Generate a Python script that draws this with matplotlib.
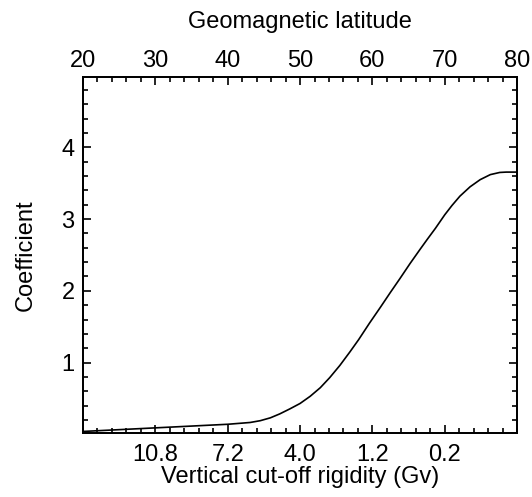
import matplotlib
matplotlib.use("Agg")
import matplotlib.pyplot as plt
from matplotlib.ticker import MultipleLocator

plt.rcParams['font.family'] = ['Liberation Sans', 'DejaVu Sans']

# curve (geomagnetic latitude, coefficient)
latitude = [20, 25, 30, 35, 40, 43.1, 44.5, 45.9, 47.2, 48.6, 50, 51.4,
            52.8, 54.1, 55.5, 56.9, 58.1, 59.6, 61.1, 62.5, 63.8, 65.2,
            66.6, 67.6, 68.7, 70, 71, 72.1, 73.5, 74.9, 76.3, 77.6, 78.5, 80]
coefficient = [0.04, 0.065, 0.09, 0.115, 0.14, 0.165, 0.19, 0.23, 0.285,
               0.355, 0.43, 0.53, 0.65, 0.79, 0.96, 1.15, 1.32, 1.55,
               1.77, 1.98, 2.17, 2.38, 2.58, 2.72, 2.87, 3.06, 3.19, 3.32,
               3.45, 3.55, 3.62, 3.65, 3.655, 3.655]

lat_ticks = [20, 30, 40, 50, 60, 70, 80]
rig_pos = [30, 40, 50, 60, 70]
rig_labels = ['10.8', '7.2', '4.0', '1.2', '0.2']
y_ticks = [1, 2, 3, 4]

fig = plt.figure(figsize=(5.32, 4.97), dpi=100)
ax = fig.add_axes([0.156, 0.129, 0.816, 0.716])

ax.plot(latitude, coefficient, color='black', lw=1.2)
ax.set_xlim(20, 80)
ax.set_ylim(0.02, 4.98)

ax.set_xticks(rig_pos)
ax.set_xticklabels(rig_labels)
ax.xaxis.set_minor_locator(MultipleLocator(2))
ax.set_yticks(y_ticks)
ax.yaxis.set_minor_locator(MultipleLocator(0.2))
ax.tick_params(which='both', direction='in', right=True, labelsize=17, width=1.2)
ax.tick_params(which='major', length=6)
ax.tick_params(which='minor', length=3.5)
ax.tick_params(axis='x', pad=8)
ax.tick_params(axis='y', pad=6)
ax.set_xlabel('Vertical cut-off rigidity (Gv)', fontsize=17, labelpad=0)
ax.set_ylabel('Coefficient', fontsize=17, labelpad=18)

top = ax.twiny()
top.set_xlim(20, 80)
top.set_xticks(lat_ticks)
top.xaxis.set_minor_locator(MultipleLocator(2))
top.tick_params(which='both', direction='in', labelsize=17, width=1.2, pad=3.5)
top.tick_params(which='major', length=6)
top.tick_params(which='minor', length=3.5)
top.set_xlabel('Geomagnetic latitude', fontsize=17, labelpad=16)

for a in (ax, top):
    for s in a.spines.values():
        s.set_linewidth(1.3)

fig.savefig('out.png', dpi=100)
